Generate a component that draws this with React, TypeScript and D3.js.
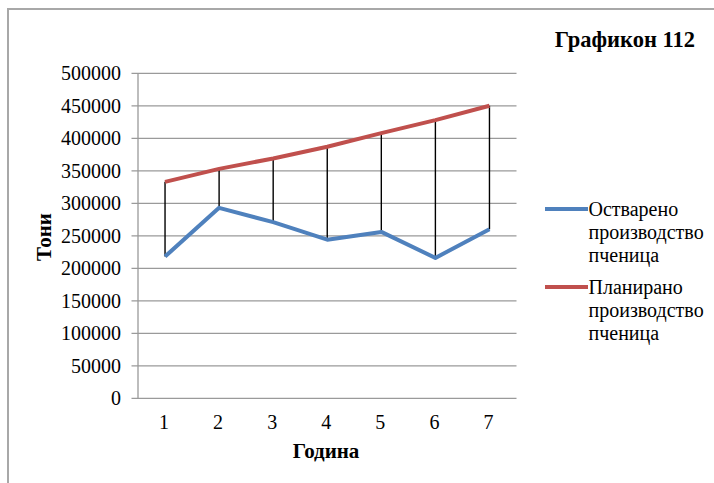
import React from "react";
import * as d3 from "d3";

const categories = ["1", "2", "3", "4", "5", "6", "7"];
const achieved = [218000, 293000, 271000, 244000, 256000, 216000, 260000];
const planned = [333000, 353000, 369000, 387000, 408000, 428000, 450000];
const yTicks = [0, 50000, 100000, 150000, 200000, 250000, 300000, 350000, 400000, 450000, 500000];
const seriesNames = ["Остварено производство пченица", "Планирано производство пченица"];
const legendLines = [["Остварено", "производство", "пченица"], ["Планирано", "производство", "пченица"]];
const titleText = "Графикон 112";
const xTitle = "Година";
const yTitle = "Тони";

const W = 714, H = 483;
const plot = { left: 138, right: 516.5, top: 73.3, bottom: 398.3 };
const serif = "Liberation Serif, Times New Roman, Tinos, serif";
const BLUE = "#4F81BD";
const RED = "#C0504D";
const GRID = "#9a9a9a";

const txt = { fontFamily: serif };

export default function App() {
  const x = d3.scaleBand().domain(categories).range([plot.left, plot.right]);
  const cx = (c: string) => (x(c) as number) + x.bandwidth() / 2;
  const y = d3.scaleLinear().domain([0, 500000]).range([plot.bottom, plot.top]);
  const line = d3.line<[string, number]>().x((d) => cx(d[0])).y((d) => y(d[1]));
  const blueData = categories.map((c, i) => [c, achieved[i]] as [string, number]);
  const redData = categories.map((c, i) => [c, planned[i]] as [string, number]);
  const colors = [BLUE, RED];
  const legendY = [209, 287];

  return (
    <svg width={W} height={H} style={{ position: "absolute", left: 0, top: 0, background: "#fff", fontFamily: serif }}>
      <rect x={0} y={0} width={W} height={H} fill="#fff" />
      <path d={`M8,${H} V9 H${W}`} fill="none" stroke="#a8a8a8" strokeWidth={2} />
      <text x={695} y={46.5} textAnchor="end" style={{ ...txt, fontWeight: 700, fontSize: 22.5 }} fill="#000">
        {titleText}
      </text>
      {yTicks.map((t) => (
        <g key={t}>
          <line x1={plot.left - 6.5} x2={plot.right} y1={y(t)} y2={y(t)} stroke={GRID} strokeWidth={1.3} />
          <text x={121} y={y(t) + 6.8} textAnchor="end" style={{ ...txt, fontWeight: 400, fontSize: 20 }} fill="#000">
            {t}
          </text>
        </g>
      ))}
      <line x1={plot.left} x2={plot.left} y1={plot.top} y2={plot.bottom} stroke={GRID} strokeWidth={1.3} />
      {categories.map((c) => (
        <text key={c} x={cx(c) - 1} y={428.5} textAnchor="middle" style={{ ...txt, fontWeight: 400, fontSize: 20 }} fill="#000">
          {c}
        </text>
      ))}
      {categories.map((c, i) => (
        <line key={"hl" + c} x1={cx(c)} x2={cx(c)} y1={y(planned[i])} y2={y(achieved[i])} stroke="#000" strokeWidth={1.4} />
      ))}
      <path d={line(blueData) || ""} fill="none" stroke={BLUE} strokeWidth={4} strokeLinejoin="round" />
      <path d={line(redData) || ""} fill="none" stroke={RED} strokeWidth={4} strokeLinejoin="round" />
      <text x={326} y={458} textAnchor="middle" style={{ ...txt, fontWeight: 700, fontSize: 21 }} fill="#000">
        {xTitle}
      </text>
      <text transform={`translate(51,237) rotate(-90)`} textAnchor="middle" style={{ ...txt, fontWeight: 700, fontSize: 21 }} fill="#000">
        {yTitle}
      </text>
      {seriesNames.map((name, i) => (
        <g key={name}>
          <line x1={545} x2={588} y1={legendY[i]} y2={legendY[i]} stroke={colors[i]} strokeWidth={4} />
          {legendLines[i].map((ln, j) => (
            <text key={j} x={588.5} y={legendY[i] + 7 + j * 23} style={{ ...txt, fontWeight: 400, fontSize: 20 }} fill="#000">
              {ln}
            </text>
          ))}
        </g>
      ))}
    </svg>
  );
}
